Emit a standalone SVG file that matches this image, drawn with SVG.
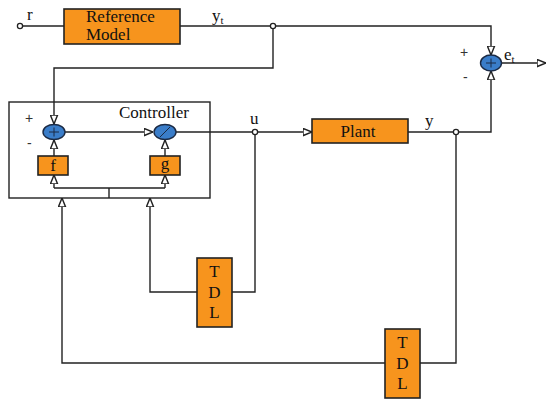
<svg xmlns="http://www.w3.org/2000/svg" width="550" height="407" viewBox="0 0 550 407">
<style>
.box{fill:#F7941D;stroke:#222;stroke-width:1.6}
.sum{fill:#3A7DC9;stroke:#1b2a44;stroke-width:1.4}
.ln{fill:none;stroke:#222;stroke-width:1.4}
.term{fill:#fff;stroke:#222;stroke-width:1.3}
.t{font-family:"Liberation Serif",serif;font-size:17px;fill:#111}
.s{font-family:"Liberation Sans",sans-serif;font-size:14px;fill:#333}
</style>
<defs>
<marker id="a" viewBox="0 0 10 10" refX="10" refY="5" markerWidth="9" markerHeight="9" markerUnits="userSpaceOnUse" orient="auto">
<path d="M0,1 L10,5 L0,9 Z" fill="#fff" stroke="#222" stroke-width="1.6"/>
</marker>
</defs>
<rect width="550" height="407" fill="#fff"/>
<g id="connectors">
<path class="ln" d="M22,26 H64"/>
<path class="ln" d="M180,26 H271"/>
<path class="ln" d="M275,26 H491 V55" marker-end="url(#a)"/>
<path class="ln" d="M273,28 V68 H54 V124" marker-end="url(#a)"/>
<path class="ln" d="M65,132 H153" marker-end="url(#a)"/>
<path class="ln" d="M54,156 V140" marker-end="url(#a)"/>
<path class="ln" d="M165,156 V140" marker-end="url(#a)"/>
<path class="ln" d="M54,188 V175" marker-end="url(#a)"/>
<path class="ln" d="M165,188 V175" marker-end="url(#a)"/>
<path class="ln" d="M54,188 H165 M109,188 V198"/>
<path class="ln" d="M176,132 H253"/>
<path class="ln" d="M257,132 H312" marker-end="url(#a)"/>
<path class="ln" d="M408,132 H454"/>
<path class="ln" d="M458,132 H491 V71" marker-end="url(#a)"/>
<path class="ln" d="M502,63 H546" marker-end="url(#a)"/>
<path class="ln" d="M255,134 V292 H232"/>
<path class="ln" d="M197,292 H150 V198" marker-end="url(#a)"/>
<path class="ln" d="M456,134 V363 H420"/>
<path class="ln" d="M385,363 H62 V198" marker-end="url(#a)"/>
</g>
<g id="r-term"><circle class="term" cx="20" cy="26" r="2.6"/><text class="t" x="27" y="20">r</text></g>
<g id="yt-term"><circle class="term" cx="273" cy="26" r="2.6"/><text class="t" x="212" y="21">y<tspan font-size="11" dy="3">t</tspan></text></g>
<g id="reference-model">
<rect class="box" x="64" y="9" width="116" height="35"/>
<text class="t" x="86" y="22" font-size="15.5">Reference</text>
<text class="t" x="86" y="40" font-size="15.5">Model</text>
</g>
<g id="controller">
<rect x="9" y="102" width="201" height="96" fill="none" stroke="#222" stroke-width="1.4"/>
<text class="t" x="119" y="118">Controller</text>
</g>
<g id="sum1">
<ellipse class="sum" cx="54" cy="132" rx="11" ry="7.5"/>
<path d="M49,132 H59 M54,127.5 V136.5" stroke="#1b2a44" stroke-width="1"/>
<text class="s" x="25" y="123">+</text>
<text class="s" x="27" y="148">-</text>
</g>
<g id="div">
<ellipse class="sum" cx="165" cy="132" rx="11" ry="7.5"/>
<path d="M160,137 L170,127" stroke="#1b2a44" stroke-width="1"/>
</g>
<g id="f"><rect class="box" x="38" y="156" width="30" height="19"/><text class="t" x="53" y="171" text-anchor="middle">f</text></g>
<g id="g"><rect class="box" x="150" y="156" width="30" height="19"/><text class="t" x="165" y="169" text-anchor="middle">g</text></g>
<g id="u-term"><circle class="term" cx="255" cy="132" r="2.6"/><text class="t" x="250" y="124">u</text></g>
<g id="plant"><rect class="box" x="312" y="119" width="96" height="24"/><text class="t" x="358" y="137" text-anchor="middle">Plant</text></g>
<g id="y-term"><circle class="term" cx="456" cy="132" r="2.6"/><text class="t" x="425" y="126">y</text></g>
<g id="sum2">
<ellipse class="sum" cx="491" cy="63" rx="10.5" ry="8"/>
<path d="M486,63 H496 M491,58.5 V67.5" stroke="#1b2a44" stroke-width="1"/>
<text class="s" x="460" y="57">+</text>
<text class="s" x="463" y="82">-</text>
<text class="t" x="504" y="60">e<tspan font-size="11" dy="3">t</tspan></text>
</g>
<g id="tdl1"><rect class="box" x="197" y="258" width="35" height="69"/>
<text class="t" x="214.5" y="277" text-anchor="middle">T</text>
<text class="t" x="214.5" y="298" text-anchor="middle">D</text>
<text class="t" x="214.5" y="318" text-anchor="middle">L</text></g>
<g id="tdl2"><rect class="box" x="385" y="329" width="35" height="69"/>
<text class="t" x="402.5" y="348" text-anchor="middle">T</text>
<text class="t" x="402.5" y="369" text-anchor="middle">D</text>
<text class="t" x="402.5" y="389" text-anchor="middle">L</text></g>
</svg>
